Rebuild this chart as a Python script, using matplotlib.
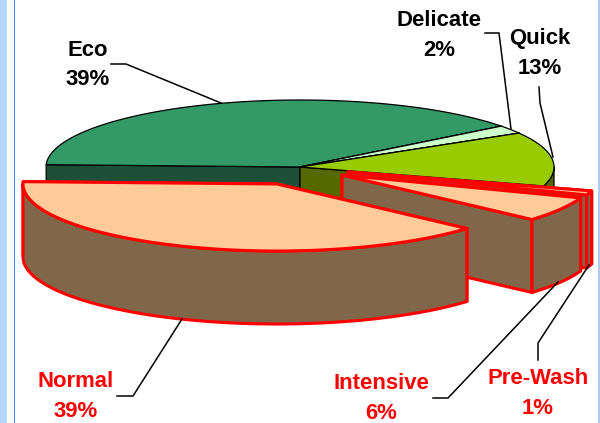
import numpy as np
import matplotlib
matplotlib.use('Agg')
import matplotlib.pyplot as plt
from matplotlib.patches import Polygon, Rectangle

plt.rcParams['font.family'] = ['Liberation Sans', 'DejaVu Sans']

# clockwise from the left edge of the pie
categories = ['Eco', 'Delicate', 'Quick', 'Pre-Wash', 'Intensive', 'Normal']
values = [39, 2, 13, 1, 6, 39]
top_colors = ['#339966', '#CCFFCC', '#99CC00', '#FFCC99', '#FFCC99', '#FFCC99']
side_colors = ['#1E5038', '#7A997A', '#556900', '#806749', '#806749', '#806749']
edge_colors = ['black', 'black', 'black', 'red', 'red', 'red']
offsets = [(0, 0), (0, 0), (0, 0), (48, 5), (42, 8), (-23, 17)]
label_xy = [(88, 65), (439, 35.5), (540, 53.5), (538, 393.5), (381, 398.5), (76, 396.5)]
label_colors = ['black', 'black', 'black', 'red', 'red', 'red']
leaders = [
    [(111, 64), (126, 64), (221, 103)],
    [(485, 33), (499, 33), (511, 129)],
    [(539, 87), (540, 103), (553, 157)],
    [(538, 360), (538, 343), (589, 265)],
    [(433, 398), (448, 398), (558, 282)],
    [(117, 396), (133, 396), (182, 319)],
]

cx, cy = 300, 167
rx, ry = 254, 67
depth = 73
start = 178


def arc(a0, a1, dx, dy):
    t = np.radians(np.linspace(a0, a1, 80))
    return np.column_stack([cx + dx + rx * np.cos(t), cy + dy - ry * np.sin(t)])


fig = plt.figure(figsize=(6, 4.23), dpi=100)
ax = fig.add_axes([0, 0, 1, 1])
ax.set_xlim(0, 600)
ax.set_ylim(423, 0)
ax.axis('off')

# page strip on the left and right
ax.add_patch(Rectangle((0, 0), 7, 423, color='#B3D7FF', lw=0))
ax.add_patch(Rectangle((14, 0), 1.2, 423, color='#4D80FF', lw=0))
ax.add_patch(Rectangle((598, 0), 2, 423, color='#B3C8F0', lw=0))

angles = start - np.cumsum([0] + values) * 3.6

for i in range(len(values)):
    a0, a1 = angles[i], angles[i + 1]
    dx, dy = offsets[i]
    lw = 2.2 if edge_colors[i] == 'red' else 0.9
    z = i + 2 if edge_colors[i] == 'red' else 1
    apex = np.array([cx + dx, cy + dy])
    kw = dict(facecolor=side_colors[i], edgecolor=edge_colors[i], lw=lw,
              joinstyle='round', zorder=z)
    top = arc(a0, a1, dx, dy)
    # radial faces
    for p in (top[0], top[-1]):
        ax.add_patch(Polygon([apex, p, p + (0, depth), apex + (0, depth)], **kw))
    # outer wall, only the part facing the viewer
    if a1 < 0:
        wall = arc(min(a0, 0), max(a1, -180), dx, dy)
        ax.add_patch(Polygon(np.vstack([wall, (wall + (0, depth))[::-1]]), **kw))
    kw['facecolor'] = top_colors[i]
    ax.add_patch(Polygon(np.vstack([apex, top]), **kw))

for pts in leaders:
    xs, ys = zip(*pts)
    ax.plot(xs, ys, color='black', lw=1.1, zorder=10)

for i in range(len(categories)):
    ax.text(label_xy[i][0], label_xy[i][1], f'{categories[i]}\n{values[i]}%',
            color=label_colors[i], fontsize=15.9, fontweight='bold',
            ha='center', va='center', linespacing=1.55, zorder=11)

fig.savefig('out.png', dpi=100)
